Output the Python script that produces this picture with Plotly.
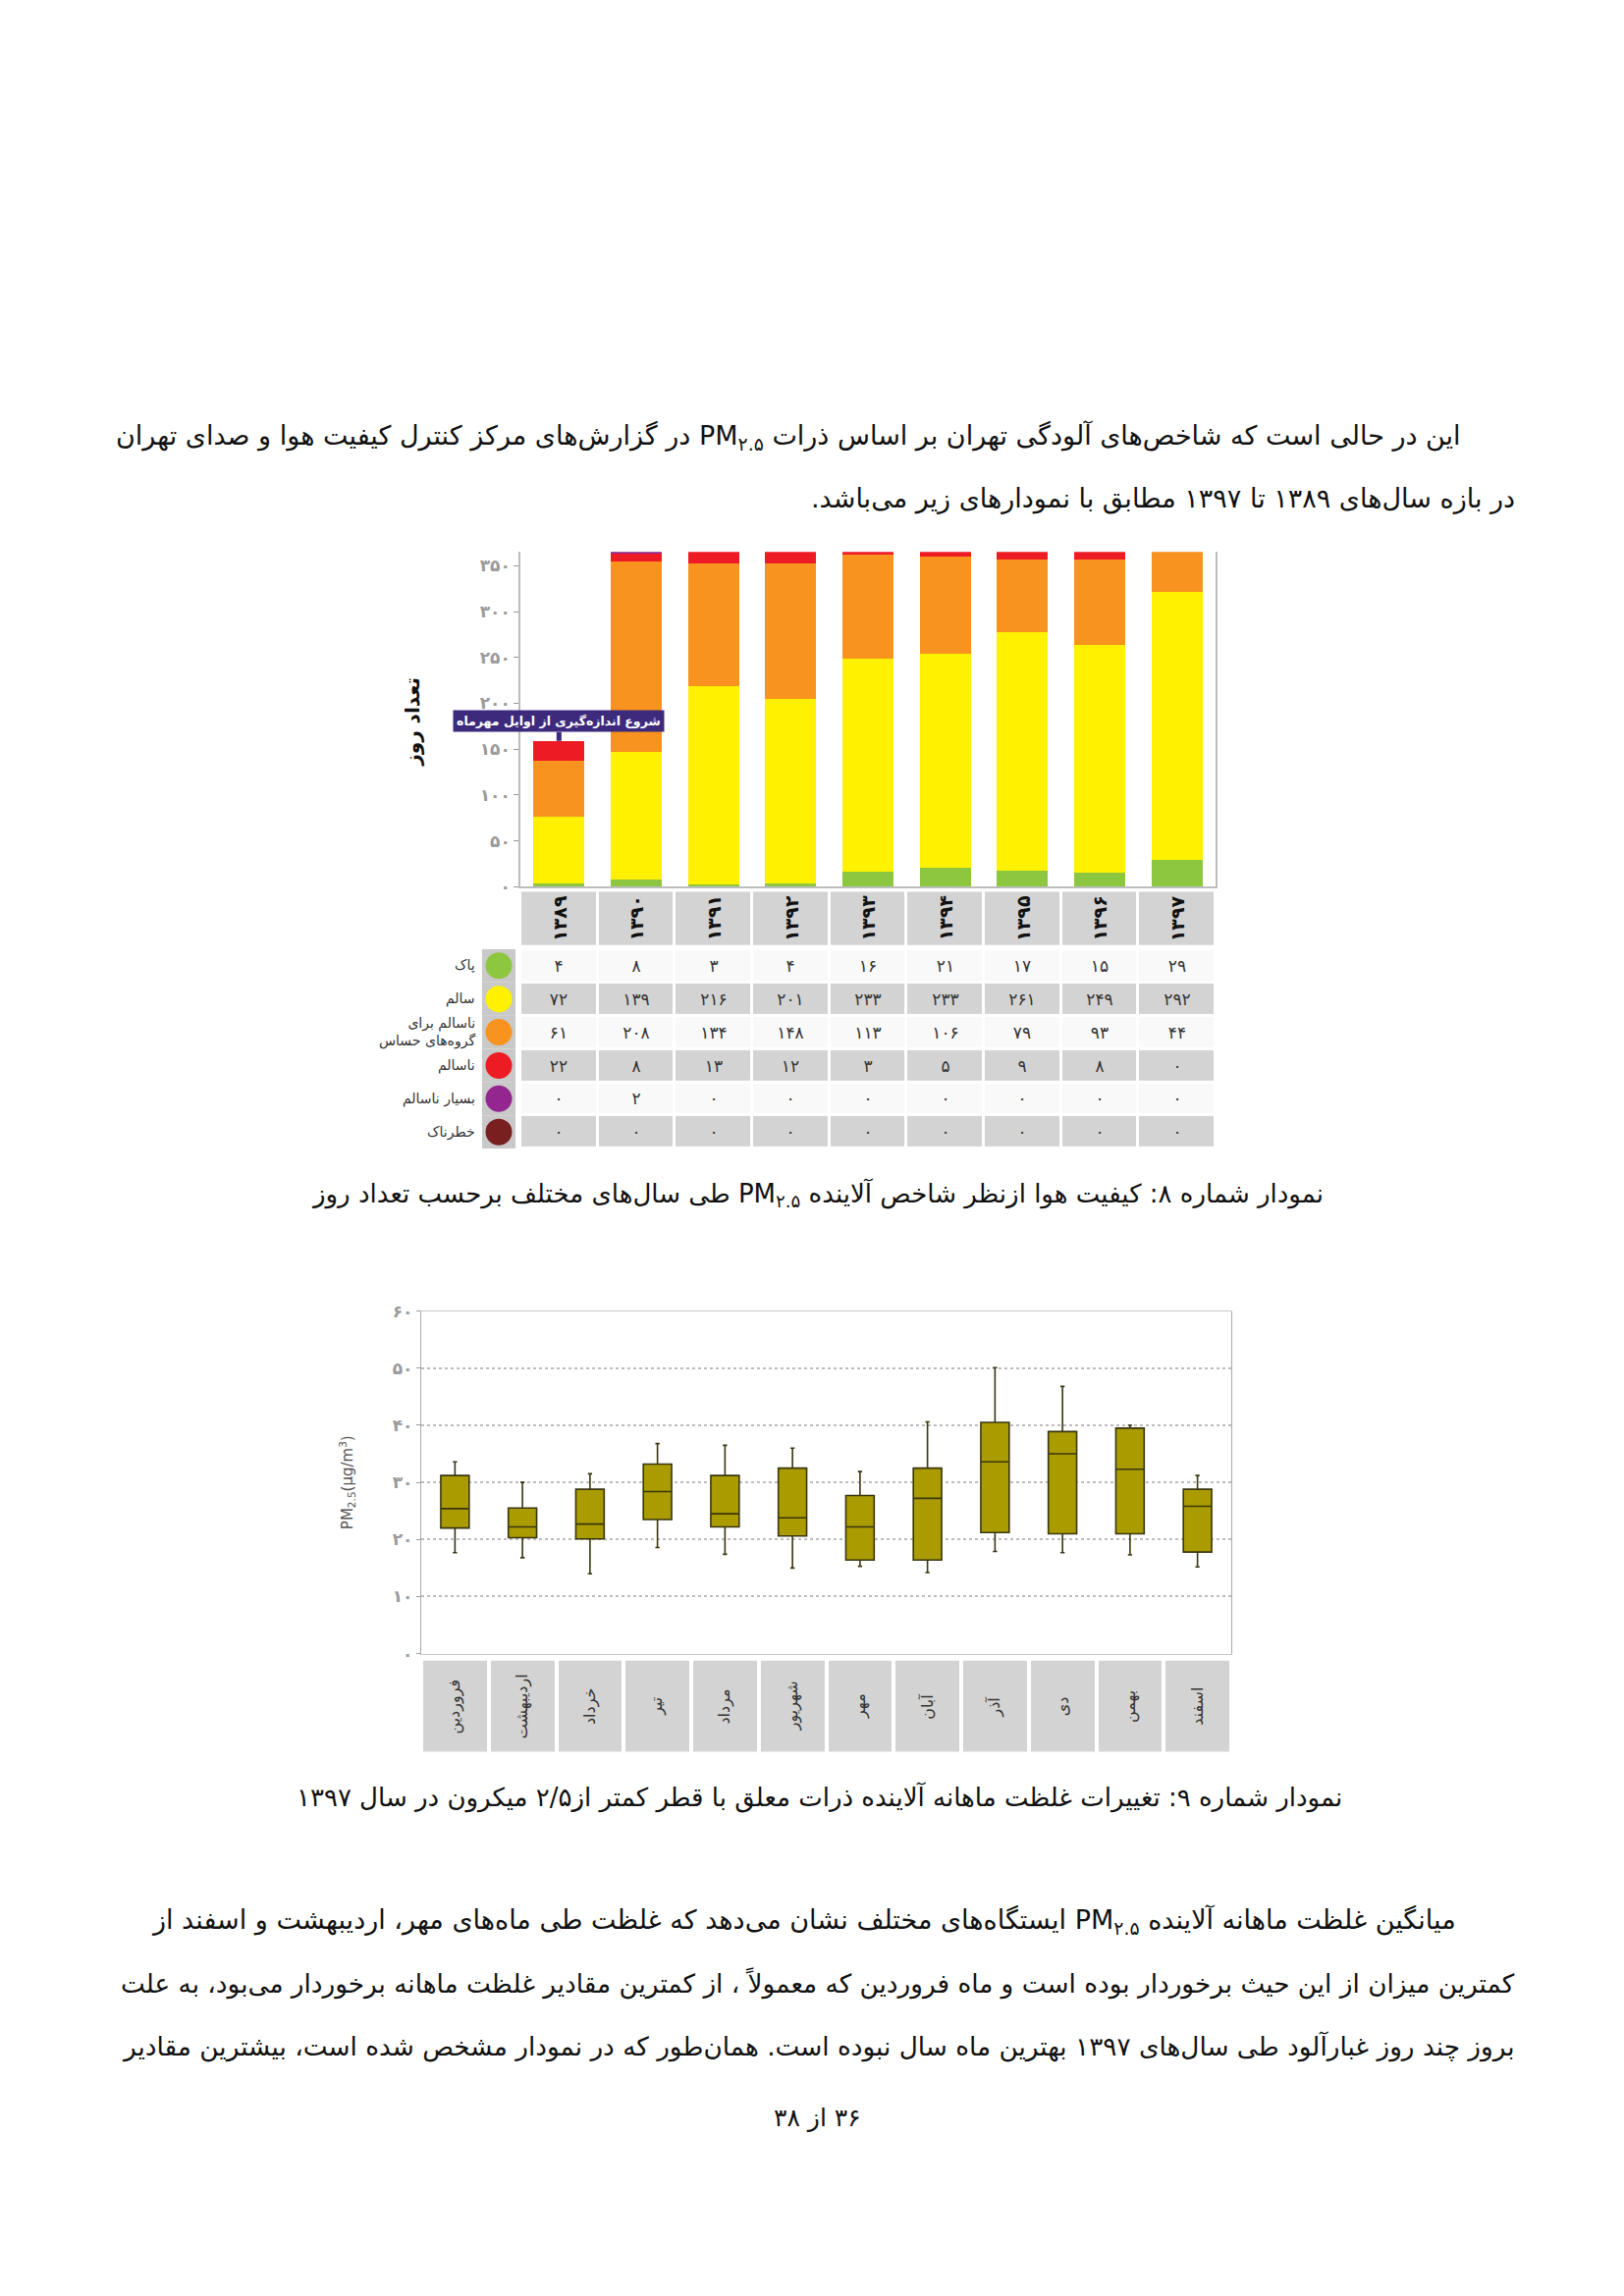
import plotly.graph_objects as go

W, H = 1654, 2339
PAD = 8  # the page body adds an 8px margin around the plot div
FA = str.maketrans("0123456789", "۰۱۲۳۴۵۶۷۸۹")
RLE, PDF = "\u202b", "\u202c"


def fa(v):
    return str(v).translate(FA)


def rtl(s):
    return RLE + s + PDF


def fx(px):
    return (px - PAD) / W


def fy(px):
    return 1 - (px - PAD) / H


# ---------- data: chart 8 (days per air-quality class) ----------
years = ["۱۳۸۹", "۱۳۹۰", "۱۳۹۱", "۱۳۹۲", "۱۳۹۳", "۱۳۹۴", "۱۳۹۵", "۱۳۹۶", "۱۳۹۷"]
clean = [4, 8, 3, 4, 16, 21, 17, 15, 29]
healthy = [72, 139, 216, 201, 233, 233, 261, 249, 292]
sensitive = [61, 208, 134, 148, 113, 106, 79, 93, 44]
unhealthy = [22, 8, 13, 12, 3, 5, 9, 8, 0]
very_unhealthy = [0, 2, 0, 0, 0, 0, 0, 0, 0]
hazardous = [0, 0, 0, 0, 0, 0, 0, 0, 0]
class_names = ["پاک", "سالم", "ناسالم برای<br>گروه‌های حساس", "ناسالم", "بسیار ناسالم", "خطرناک"]
class_colors = ["#8dc63f", "#fff100", "#f7931e", "#ed1c24", "#93278f", "#7a1f1f"]
day_ticks = [0, 50, 100, 150, 200, 250, 300, 350]

# ---------- data: chart 9 (monthly PM2.5 box plot, 1397) ----------
months = ["فروردین", "اردیبهشت", "خرداد", "تیر", "مرداد", "شهریور",
          "مهر", "آبان", "آذر", "دی", "بهمن", "اسفند"]
pm_low = [17.7, 16.8, 14.0, 18.6, 17.4, 15.0, 15.3, 14.2, 17.9, 17.7, 17.3, 15.2]
pm_q1 = [22.0, 20.3, 20.1, 23.5, 22.2, 20.6, 16.4, 16.4, 21.2, 21.0, 21.0, 17.8]
pm_med = [25.4, 22.2, 22.7, 28.4, 24.5, 23.8, 22.2, 27.2, 33.6, 35.0, 32.3, 25.8]
pm_q3 = [31.2, 25.5, 28.8, 33.2, 31.2, 32.5, 27.7, 32.5, 40.5, 38.9, 39.5, 28.8]
pm_high = [33.6, 30.0, 31.5, 36.8, 36.5, 36.0, 31.9, 40.6, 50.1, 46.8, 40.0, 31.2]
pm_ticks = [0, 10, 20, 30, 40, 50, 60]

FONT = "DejaVu Sans"
TXT = 27
GRAYS = [[0, "#f9f9f9"], [1, "#d3d3d3"]]

fig = go.Figure()

# stacked bars
series = [clean, healthy, sensitive, unhealthy, very_unhealthy, hazardous]
for vals, col, name in zip(series, class_colors, class_names):
    fig.add_trace(go.Bar(x=years, y=vals, marker_color=col, marker_line_width=0,
                         name=name, xaxis="x", yaxis="y", hoverinfo="skip"))

# header row of chart 8
fig.add_trace(go.Heatmap(x=years, y=["h"], z=[[1] * len(years)], xaxis="x", yaxis="y3",
                         colorscale=GRAYS, zmin=0, zmax=1,
                         showscale=False, xgap=3, hoverinfo="skip"))

# table of values
table_rows = [str(i) for i in range(len(series))]
table_z = [[i % 2] * len(years) for i in range(len(series))]
table_txt = [[fa(v) for v in s] for s in series]
fig.add_trace(go.Heatmap(x=years, y=table_rows, z=table_z, text=table_txt,
                         texttemplate="%{text}", textfont=dict(family=FONT, size=17, color="#333"),
                         xaxis="x", yaxis="y4",
                         colorscale=GRAYS, zmin=0, zmax=1,
                         showscale=False, xgap=3, ygap=3, hoverinfo="skip"))

# legend chips
fig.add_trace(go.Scatter(x=[0.5] * len(table_rows), y=table_rows, mode="markers",
                         marker=dict(symbol="square", size=34, color="#c9c9c9"),
                         xaxis="x5", yaxis="y4", hoverinfo="skip"))
fig.add_trace(go.Scatter(x=[0.5] * len(table_rows), y=table_rows, mode="markers",
                         marker=dict(symbol="circle", size=27, color=class_colors),
                         xaxis="x5", yaxis="y4", hoverinfo="skip"))

# box plot
fig.add_trace(go.Box(x=months, q1=pm_q1, median=pm_med, q3=pm_q3,
                     lowerfence=pm_low, upperfence=pm_high,
                     fillcolor="#a99b00", line=dict(color="#3a3610", width=1.6),
                     whiskerwidth=0.15, width=0.42, boxpoints=False,
                     xaxis="x2", yaxis="y2", hoverinfo="skip"))

# header row of chart 9
fig.add_trace(go.Heatmap(x=months, y=["h"], z=[[1] * len(months)], xaxis="x2", yaxis="y5",
                         colorscale=GRAYS, zmin=0, zmax=1,
                         showscale=False, xgap=4, hoverinfo="skip"))

ann = []
# year labels
for yr in years:
    ann.append(dict(x=yr, y="h", xref="x", yref="y3", text="<b>" + yr + "</b>", showarrow=False,
                    textangle=-90, font=dict(family=FONT, size=19, color="#111")))
# month labels
for m in months:
    ann.append(dict(x=m, y="h", xref="x2", yref="y5", text=m, showarrow=False,
                    textangle=-90, font=dict(family=FONT, size=16, color="#333")))
# table row labels
for r, nm in zip(table_rows, class_names):
    ann.append(dict(x=fx(486), y=r, xref="paper", yref="y4", xanchor="right", text=nm,
                    showarrow=False, align="right", font=dict(family=FONT, size=14, color="#333")))

# callout
ann.append(dict(x=years[0], y=sum(s[0] for s in series), xref="x", yref="y",
                text="<b>شروع اندازه‌گیری از اوایل مهرماه</b>", showarrow=True,
                arrowhead=0, arrowwidth=5, arrowcolor="#3d2a7c", ax=0, ay=-20,
                bgcolor="#3d2a7c", borderpad=3, font=dict(family=FONT, size=12.5, color="white")))

# axis titles
ann.append(dict(x=fx(420), y=fy(732), xref="paper", yref="paper", text="<b>تعداد روز</b>",
                xanchor="center", yanchor="middle",
                textangle=-90, showarrow=False, font=dict(family=FONT, size=20, color="#111")))
ann.append(dict(x=fx(353), y=fy(1513), xref="paper", yref="paper",
                text="PM<sub>2.5</sub>(µg/m<sup>3</sup>)", xanchor="center", yanchor="middle",
                textangle=-90, showarrow=False, font=dict(family=FONT, size=15, color="#555")))


# body text
def line(txt, xr, ypx, anchor="right", size=TXT):
    ann.append(dict(x=fx(xr), y=fy(ypx), xref="paper", yref="paper", text=rtl(txt), xanchor=anchor,
                    yanchor="middle", showarrow=False, font=dict(family=FONT, size=size, color="#111")))


PM = "PM<sub>۲.۵</sub>"
line("این در حالی است که شاخص‌های آلودگی تهران بر اساس ذرات " + PM +
     " در گزارش‌های مرکز کنترل کیفیت هوا و صدای تهران", 1490, 439)
line("در بازه سال‌های ۱۳۸۹ تا ۱۳۹۷ مطابق با نمودارهای زیر می‌باشد.", 1545, 502)
line("نمودار شماره ۸: کیفیت هوا ازنظر شاخص آلاینده " + PM +
     " طی سال‌های مختلف برحسب تعداد روز", 832, 1217, "center", 26)
line("نمودار شماره ۹: تغییرات غلظت ماهانه آلاینده ذرات معلق با قطر کمتر از۲/۵ میکرون در سال ۱۳۹۷",
     834, 1837, "center", 26)
line("میانگین غلظت ماهانه آلاینده " + PM +
     " ایستگاه‌های مختلف نشان می‌دهد که غلظت طی ماه‌های مهر، اردیبهشت و اسفند از", 1485, 1964)
line("کمترین میزان از این حیث برخوردار بوده است و ماه فروردین که معمولاً ، از کمترین مقادیر غلظت ماهانه برخوردار می‌بود، به علت",
     1545, 2028, size=26.3)
line("بروز چند روز غبارآلود طی سال‌های ۱۳۹۷ بهترین ماه سال نبوده است. همان‌طور که در نمودار مشخص شده است، بیشترین مقادیر",
     1545, 2093, size=26.3)
line("۳۶ از ۳۸", 832, 2166, "center", 25)

tickfont = dict(family=FONT, size=17, color="#9a9a9a")

fig.update_layout(
    width=W, height=H, margin=dict(l=0, r=0, t=0, b=0),
    paper_bgcolor="white", plot_bgcolor="white",
    barmode="stack", bargap=0.34, showlegend=False,
    font=dict(family=FONT),
    annotations=ann,
    xaxis=dict(domain=[fx(530), fx(1238)], anchor="y", type="category",
               categoryorder="array", categoryarray=years, range=[-0.5, len(years) - 0.5],
               showticklabels=False, ticks="", showgrid=False,
               showline=True, linecolor="#bdbdbd", linewidth=2, mirror=False),
    yaxis=dict(domain=[fy(901), fy(557)], anchor="x", range=[0, 365],
               tickvals=day_ticks, ticktext=["<b>" + fa(t) + "</b>" for t in day_ticks],
               tickfont=tickfont, ticks="outside", ticklen=5, tickcolor="#9a9a9a",
               showgrid=False, zeroline=False, showline=True, linecolor="#bdbdbd",
               linewidth=1.5, mirror=True),
    yaxis3=dict(domain=[fy(961), fy(906)], anchor="x", showticklabels=False,
                showgrid=False, zeroline=False, range=[-0.5, 0.5]),
    yaxis4=dict(domain=[fy(1170), fy(965)], anchor="x", showticklabels=False,
                showgrid=False, zeroline=False, type="category",
                range=[len(table_rows) - 0.5, -0.5]),
    xaxis5=dict(domain=[fx(489), fx(527)], anchor="y4", range=[0, 1], visible=False),
    xaxis2=dict(domain=[fx(429), fx(1254)], anchor="y2", type="category",
                categoryorder="array", categoryarray=months, range=[-0.5, len(months) - 0.5],
                showticklabels=False, ticks="", showgrid=False,
                showline=True, linecolor="#c8c8c8", linewidth=1.2, mirror=True),
    yaxis2=dict(domain=[fy(1689), fy(1337)], anchor="x2", range=[0, 60],
                tickvals=pm_ticks, ticktext=["<b>" + fa(t) + "</b>" for t in pm_ticks],
                tickfont=tickfont, ticks="outside", ticklen=4, tickcolor="#9a9a9a",
                showgrid=True, gridcolor="#bdbdbd", griddash="dot", gridwidth=1.5,
                zeroline=False, showline=True, linecolor="#aaaaaa", linewidth=1.2, mirror=True),
    yaxis5=dict(domain=[fy(1790), fy(1696)], anchor="x2", showticklabels=False,
                showgrid=False, zeroline=False, range=[-0.5, 0.5]),
)

fig.write_html("out.html")
